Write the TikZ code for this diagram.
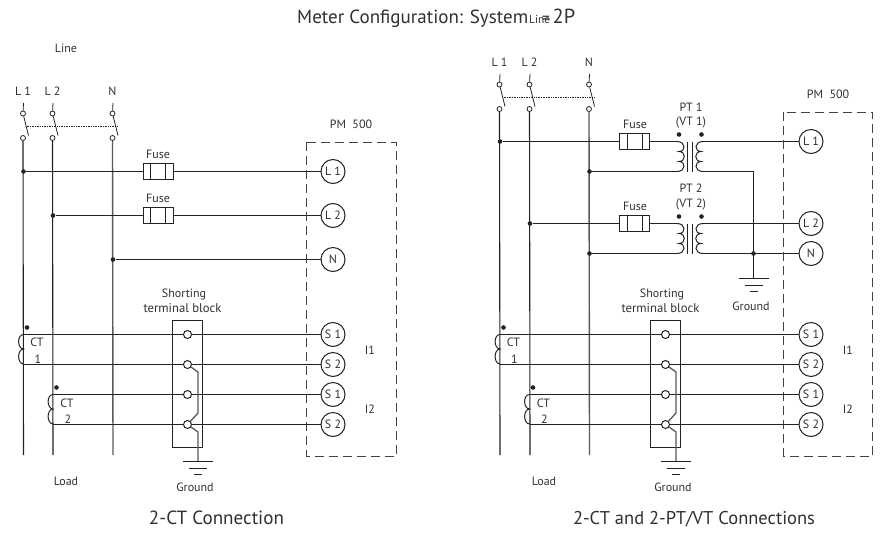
\documentclass[tikz,border=0pt]{standalone}
\usepackage{graphicx}
\usepackage{fontspec}
\setmainfont{PT Sans}
\definecolor{ink}{HTML}{222222}
\definecolor{txt}{HTML}{303030}
\newcommand{\lab}{\fontsize{12}{14}\selectfont}
\newcommand{\fitw}[2]{\resizebox{#1pt}{!}{#2}}
\tikzset{
  x=1pt,y=-1pt,
  wire/.style={draw=ink,line width=1.1pt},
  nwire/.style={draw=ink!75,line width=1.4pt},
  gwire/.style={draw=ink!75,line width=1.3pt},
  term/.style={circle,draw=ink,fill=white,line width=1pt,minimum size=24pt,inner sep=0pt,font=\lab,text=txt},
  lbl/.style={font=\lab,text=txt,inner sep=0pt,align=center},
  big/.style={font=\fontsize{16}{19}\selectfont,text=txt,inner sep=0pt},
  sw/.style={circle,draw=ink,fill=white,line width=.8pt,minimum size=5pt,inner sep=0pt},
  tb/.style={circle,draw=ink,fill=white,line width=1pt,minimum size=8pt,inner sep=0pt},
  jn/.style={circle,fill=ink,minimum size=4.6pt,inner sep=0pt},
  fusebox/.style={draw=ink,line width=1pt,fill=white,minimum width=30pt,minimum height=15.5pt,inner sep=0pt},
  metbox/.style={draw=ink!85,line width=1pt,dash pattern=on 9pt off 5pt},
}
\newcommand{\swgroup}[5]{%
  \node[lbl] (#1lab) at (#2-.5,91+#3) {#4};
  \coordinate (#1top) at (#2,103+#3);
  \node[sw] (#1up) at (#2-.5,113.5+#3) {};
  \node[sw] (#1lo) at (#2-.5,138+#3) {};
  \coordinate (#1tip) at (#2+5,135.5+#3);
  \coordinate (#1end) at (#2,455);
  \draw[wire,line width=.8pt] (#1top) -- (#1up) (#1up) -- (#1tip);
  \draw[#5] (#1lo) -- (#1end);
}
\newcommand{\fuse}[3]{%
  \node[fusebox] (#1) at (#2,#3) {};
  \draw[wire,line width=1pt] (#2-7.5,#3-7.7) -- (#2-7.5,#3+7.7) (#2+7.5,#3-7.7) -- (#2+7.5,#3+7.7);
}
\newcommand{\gnd}[3]{%
  \coordinate (#1) at (#2,#3);
  \draw[wire,line width=1pt] (#2-15,#3) -- (#2+15,#3) (#2-9,#3+7) -- (#2+9,#3+7) (#2-4,#3+13.5) -- (#2+4,#3+13.5);
}
\newcommand{\ctcoil}[2]{%
  \draw[wire,line width=1pt] (#1,#2) .. controls (#1-6.5,#2) and (#1-6.5,#2+14) .. (#1,#2+14.5)
     .. controls (#1-6.5,#2+15) and (#1-6.5,#2+29) .. (#1,#2+29.5);
}
\newcommand{\xfmr}[2]{%
  \coordinate (#1pa) at (677,#2);
  \coordinate (#1pb) at (677,#2+30);
  \coordinate (#1sa) at (703,#2);
  \coordinate (#1sb) at (703,#2+30);
  \draw[wire,line width=1pt] (#1pa) .. controls (686,#2) and (686,#2+10) .. (679,#2+10)
    .. controls (686,#2+10) and (686,#2+20) .. (679,#2+20)
    .. controls (686,#2+20) and (686,#2+30) .. (#1pb);
  \draw[wire,line width=1pt] (#1sa) .. controls (694,#2) and (694,#2+10) .. (701,#2+10)
    .. controls (694,#2+10) and (694,#2+20) .. (701,#2+20)
    .. controls (694,#2+20) and (694,#2+30) .. (#1sb);
  \draw[wire,line width=1pt] (687.5,#2) -- (687.5,#2+30) (692.5,#2) -- (692.5,#2+30);
  \node[jn] (#1da) at (679,#2-7) {};
  \node[jn] (#1db) at (701.5,#2-7) {};
}
\newcommand{\lowerpart}[1]{%
  \node[term] (a) at (333,334.5) {S 1};
  \node[term] (b) at (333,364.5) {S 2};
  \node[term] (c) at (333,394.5) {S 1};
  \node[term] (d) at (333,424.5) {S 2};
  \coordinate (ca) at (23.5+#1,334.5); \coordinate (cb) at (23.5+#1,364.5);
  \coordinate (cc) at (53+#1,394.5); \coordinate (cd) at (53+#1,424.5);
  \draw[wire] (ca) -- (a); \draw[wire] (cb) -- (b);
  \draw[wire] (cc) -- (c); \draw[wire] (cd) -- (d);
  \ctcoil{23.5+#1}{334.5}
  \ctcoil{53+#1}{394.5}
  \node[jn] (da) at (27+#1,327.5) {};
  \node[jn] (dc) at (56.5+#1,387.5) {};
  \node[lbl] (cta) at (37+#1,342.5) {CT};
  \node[lbl] (cna) at (38+#1,359) {1};
  \node[lbl] (ctb) at (67+#1,403) {CT};
  \node[lbl] (cnb) at (68+#1,419) {2};
  \node[draw=ink,line width=1pt,minimum width=30pt,minimum height=127pt,inner sep=0pt] (blk) at (187,383.5) {};
  \node[tb] (ta) at (187.5,334.5) {};
  \node[tb] (tb) at (187.5,364.5) {};
  \node[tb] (tc) at (187.5,394.5) {};
  \node[tb] (td) at (187.5,424.5) {};
  \gnd{gg}{198}{461}
  \draw[gwire] (tb) -- (198,372) -- (198,413) -- (td) -- (198,432) -- (gg);
  \node[lbl] (sh) at (184,294) {Shorting};
  \node[lbl] (stb) at (182.5,308.5) {\fitw{78}{terminal block}};
  \node[lbl] (gt) at (195,487.5) {Ground};
  \node[lbl] (ld) at (66,481) {Load};
  \node[lbl] (i1) at (370,350) {I1};
  \node[lbl] (i2) at (370,409) {I2};
}
\begin{document}
\begin{tikzpicture}
\useasboundingbox (0,0) rectangle (880,533);
\node[big,anchor=base west] (title) at (297,23) {\fitw{231}{Meter Configuration: System}};
\node[lbl,font=\fontsize{10}{12}\selectfont,anchor=base west] (tsub) at (529,23) {\fitw{21}{Line}};
\node[big,anchor=base] (teq) at (546,23) {=};
\node[big,anchor=base west] (tval) at (552.5,23) {\fitw{22.5}{2P}};
\node[lbl] (line) at (66,48.5) {Line};

% LEFT
\begin{scope}[name prefix=l-]
\swgroup{la}{23.5}{0}{L 1}{wire}
\swgroup{lb}{53}{0}{L 2}{wire}
\swgroup{lc}{113}{0}{N}{nwire}
\coordinate (dl) at (26.5,126); \coordinate (dr) at (117,126);
\draw[draw=ink,line width=.7pt,densely dotted] (dl) -- (dr);
\node[term] (t1) at (333,171.5) {L 1};
\node[term] (t2) at (333,215.5) {L 2};
\node[term] (t3) at (333,259.5) {N};
\fuse{f1}{158}{171.5}
\fuse{f2}{158}{215.5}
\node[jn] (j1) at (23.5,171.5) {};
\node[jn] (j2) at (53,215.5) {};
\node[jn] (j3) at (113,259.5) {};
\draw[wire] (j1) -- (f1) (f1) -- (t1);
\draw[wire] (j2) -- (f2) (f2) -- (t2);
\draw[wire] (j3) -- (t3);
\node[lbl] (fl1) at (158,154) {Fuse};
\node[lbl] (fl2) at (158,198) {Fuse};
\node[lbl] (pm) at (351,124.5) {PM\ \ 500};
\draw[metbox] (306.5,142) rectangle (396,456);
\end{scope}
\begin{scope}[name prefix=lp-]
\lowerpart{0}
\end{scope}

% RIGHT
\begin{scope}[name prefix=r-]
\swgroup{la}{500}{-29}{L 1}{wire}
\swgroup{lb}{530}{-29}{L 2}{wire}
\swgroup{lc}{589.5}{-29}{N}{nwire}
\coordinate (dl) at (503.5,97.5); \coordinate (dr) at (594,97.5);
\draw[draw=ink,line width=.7pt,densely dotted] (dl) -- (dr);
\node[term] (t1) at (811,141.5) {L 1};
\node[term] (t2) at (811,223.5) {L 2};
\node[term] (t3) at (811,253.5) {N};
\fuse{f1}{634.5}{141.5}
\fuse{f2}{634.5}{223.5}
\xfmr{x1}{141.5}
\xfmr{x2}{223.5}
\node[jn] (j1) at (500,141.5) {};
\node[jn] (j2) at (530,223.5) {};
\node[jn] (j3) at (589.5,171.5) {};
\node[jn] (j4) at (589.5,253.5) {};
\node[jn] (j5) at (753.5,253.5) {};
\gnd{gg}{753.5}{278}
\coordinate (cn) at (753.5,171.5);
\draw[wire] (j1) -- (f1) (f1) -- (x1pa);
\draw[wire] (j2) -- (f2) (f2) -- (x2pa);
\draw[wire] (j3) -- (x1pb);
\draw[wire] (j4) -- (x2pb);
\draw[wire] (x1sa) -- (t1);
\draw[wire] (x2sa) -- (t2);
\draw[wire] (x2sb) -- (t3);
\draw[wire] (x1sb) -- (cn) -- (gg);
\node[lbl] (fl1) at (635,124.5) {Fuse};
\node[lbl] (fl2) at (635,206.5) {Fuse};
\node[lbl] (p1) at (691,107) {PT 1};
\node[lbl] (v1) at (691,123) {(VT 1)};
\node[lbl] (p2) at (691,188.5) {PT 2};
\node[lbl] (v2) at (691,204.5) {(VT 2)};
\node[lbl] (gr2) at (751,306) {Ground};
\node[lbl] (pm) at (828,94.5) {PM\ \ 500};
\draw[metbox] (783.5,112) rectangle (872.5,456);
\end{scope}
\begin{scope}[shift={(478,0)},name prefix=rp-]
\lowerpart{-1.5}
\end{scope}

\node[big] (c1) at (216.5,518) {\fitw{135}{2-CT Connection}};
\node[big] (c2) at (694,519) {\fitw{242}{2-CT and 2-PT/VT Connections}};
\end{tikzpicture}
\end{document}
